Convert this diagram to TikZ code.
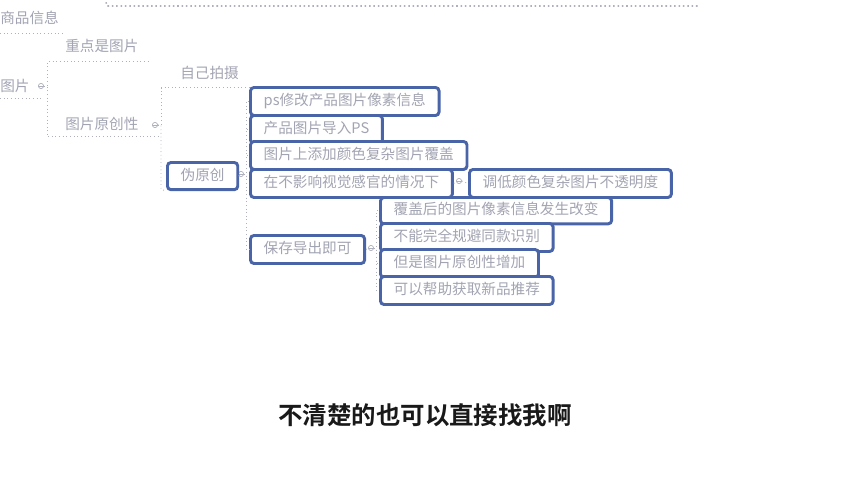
\documentclass[tikz,border=0pt]{standalone}
\usepackage{fontspec}
\newfontfamily\cjk[BoldFont={Noto Sans CJK SC Bold}]{Noto Sans CJK SC}
\usetikzlibrary{calc,positioning}
\definecolor{boxblue}{HTML}{4A64A8}
\definecolor{txtgray}{HTML}{A2A4B2}
\definecolor{linegray}{HTML}{AEB0BC}
\tikzset{
	leaf/.style={anchor=west, inner sep=0pt, text=txtgray, text height=0.29cm, text depth=0.08cm,
		font=\cjk\fontsize{10.4}{12}\selectfont},
	idea/.style={leaf, anchor=north west, draw=boxblue, fill=white, line width=2.1pt,
		rounded corners=2.5pt, minimum height=0.7cm, inner xsep=0.33cm},
	link/.style={draw=linegray, dotted, line width=0.6pt},
	knob/.style={circle, draw=linegray, line width=0.5pt, inner sep=0pt, minimum size=0.13cm,
		path picture={\draw[linegray, line width=0.4pt] (path picture bounding box.west) -- (path picture bounding box.east);}}
}

\begin{document}
\begin{tikzpicture}[x=0.025cm, y=-0.025cm]
			%%%%% START %%%%%
			\useasboundingbox (0, 0) rectangle (852, 480);
			
			\draw[link, line width=1.1pt] (105, -2) -- (107, 6) -- (700, 6);
			
			\node[leaf] (info) at (0, 19) {商品信息};
			\node[leaf] (pic) at (0, 87) {图片};
			\node[leaf] (focus) at (65, 47) {重点是图片};
			\node[leaf] (orig) at (65, 125) {图片原创性};
			\node[leaf] (shoot) at (180, 74) {自己拍摄};
			
			\node[knob] (k0) at (41, 86) {};
			\node[knob] (k1) at (155, 125) {};
			\node[knob] (k2) at (241, 174) {};
			\node[knob] (k3) at (459, 181) {};
			\node[knob] (k4) at (371, 248) {};
			
			% underlines
			\draw[link] ([yshift=-0.17cm]info.south west) -- ([yshift=-0.17cm, xshift=0.1cm]info.south east);
			\draw[link] ([yshift=-0.09cm]pic.south west) -- ([yshift=-0.09cm, xshift=0.33cm]pic.south east);
			
			% brackets
			\draw[link] (k0.east) -| ($(focus.south west)+(-18, 7)$) -- ($(focus.south east)+(10, 7)$);
			\draw[link] (k0.east) -| ($(orig.south west)+(-18, 4)$) -- ($(orig.south east)+(22, 4)$);
			\draw[link] (k1.east) -| ($(shoot.south west)+(-19, 6)$) -- ($(shoot.south east)+(10, 6)$);
			
			\node[idea, minimum height=0.68cm] (fake) at (166, 161) {伪原创};
			\draw[link] (k1.east) -| ($(fake.south west)+(-5, -2)$) -- (fake.south west);
			
			\draw[link] (fake.east) -- (k2.west);
			
			\node[idea] (b1) at (249, 86) {ps修改产品图片像素信息};
			\node[idea] (b2) at (249, 114) {产品图片导入PS};
			\node[idea] (b3) at (249, 140) {图片上添加颜色复杂图片覆盖};
			\node[idea] (b4) at (249, 168) {在不影响视觉感官的情况下};
			\node[idea] (b5) at (468, 168) {调低颜色复杂图片不透明度};
			\node[idea] (b6) at (249, 234) {保存导出即可};
			
			\foreach \n in {b1, b2, b3, b4, b6}
				\draw[link] (k2.east) -| ($(\n.west)+(-3, 0)$) -- (\n.west);
			
			\draw[link] (b4.east) -- (k3.west);
			\draw[link] (k3.east) -- (b5.west);
			\draw[link] (b6.east) -- (k4.west);
			
			\node[idea, minimum height=0.66cm] (c1) at (379, 196) {覆盖后的图片像素信息发生改变};
			\node[idea] (c2) at (379, 222) {不能完全规避同款识别};
			\node[idea] (c3) at (379, 248) {但是图片原创性增加};
			\node[idea] (c4) at (379, 275) {可以帮助获取新品推荐};
			
			\foreach \n in {c1, c2, c3, c4}
				\draw[link] (k4.east) -| ($(\n.west)+(-3, 0)$) -- (\n.west);
			
			\node[text=black!90, font=\cjk\bfseries\fontsize{17.4}{20}\selectfont] (note) at (425, 415) {不清楚的也可以直接找我啊};
			
			%%%%% END %%%%%
\end{tikzpicture}
\end{document}
